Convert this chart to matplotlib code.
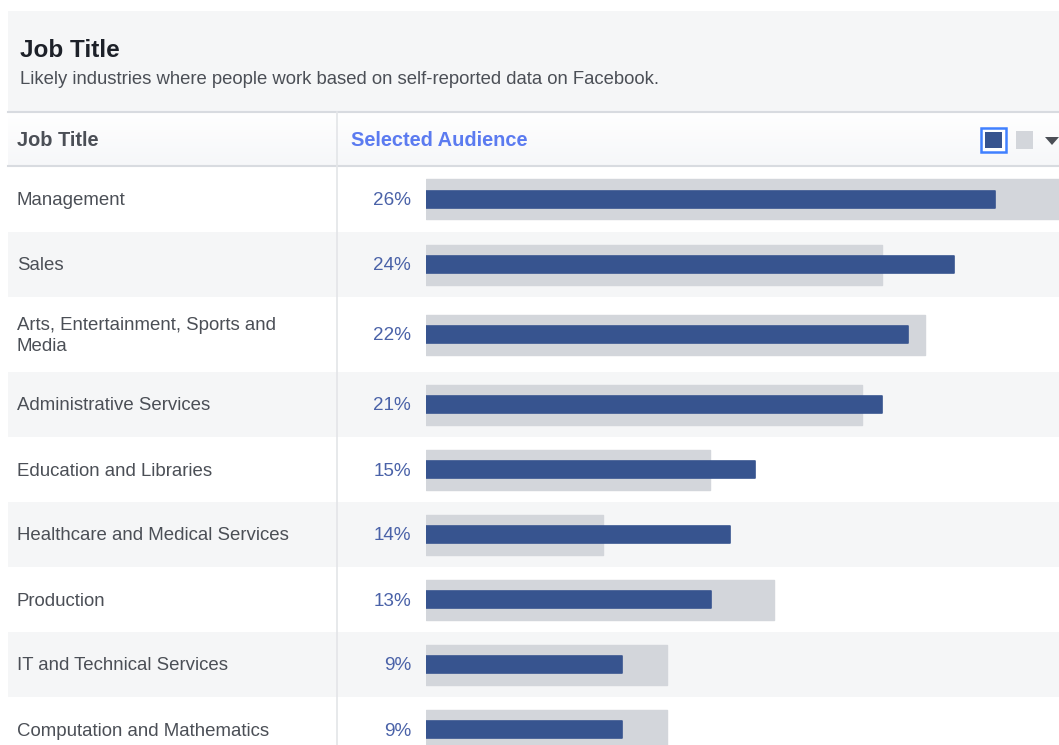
import matplotlib
matplotlib.use("Agg")
import matplotlib.pyplot as plt
import numpy as np
from matplotlib.patches import Rectangle, Polygon

plt.rcParams['font.family'] = ['Liberation Sans', 'DejaVu Sans']

# data
job_titles = [
    "Management",
    "Sales",
    "Arts, Entertainment, Sports and\nMedia",
    "Administrative Services",
    "Education and Libraries",
    "Healthcare and Medical Services",
    "Production",
    "IT and Technical Services",
    "Computation and Mathematics",
]
selected_pct = [26.0, 24.1, 22.0, 20.8, 15.0, 13.9, 13.0, 8.95, 8.95]   # blue bars
facebook_pct = [30.0, 20.8, 22.8, 19.9, 12.95, 8.1, 15.9, 11.0, 11.0]  # grey bars
pct_labels = [f"{round(v)}%" for v in selected_pct]

# layout (pixels)
W, H = 1059, 745
row_heights = [66, 65, 75, 65, 65, 65, 65, 65, 65]
table_top = 166
bar_left = 426
px_per_pct = 21.9

edges = table_top + np.concatenate([[0], np.cumsum(row_heights)])
centers = (edges[:-1] + edges[1:]) / 2

txt_dark = '#4b4f56'
txt_blue = '#4a62a8'
blue = '#37548f'
grey = '#d3d6db'
stripe = '#f5f6f7'
line = '#d8dbe0'

fig = plt.figure(figsize=(W / 100, H / 100), dpi=100)
fig.patch.set_facecolor('white')

ax = fig.add_axes([0, 0, 1, 1])
ax.set_xlim(0, W)
ax.set_ylim(H, 0)
ax.axis('off')

# header panel
ax.add_patch(Rectangle((8, 11), W - 8, 101, facecolor=stripe, edgecolor='none'))
ax.text(20, 57, "Job Title", fontsize=17.5, fontweight='bold', color='#1d2129', va='baseline')
ax.text(20, 84, "Likely industries where people work based on self-reported data on Facebook.",
        fontsize=13.35, color=txt_dark, va='baseline')

# column header row with slight gradient
grad = np.linspace(1.0, 0.0, 50).reshape(-1, 1)
ax.imshow(grad, extent=(8, W, 166, 112), cmap=matplotlib.colors.LinearSegmentedColormap.from_list(
    'g', ['#f6f7f9', '#ffffff']), aspect='auto', zorder=0.5)
ax.plot([8, W], [112, 112], color=line, lw=1.5)
ax.plot([8, W], [166, 166], color=line, lw=1.5)
ax.text(17, 141, "Job Title", fontsize=14.4, fontweight='bold', color=txt_dark, va='center')
ax.text(351, 140, "Selected Audience", fontsize=14.4, fontweight='bold', color='#5b7bf0', va='center')

# legend-ish icons
ax.add_patch(Rectangle((981, 128), 25, 24, facecolor='white', edgecolor='#4080ff', lw=1.8, zorder=3))
ax.add_patch(Rectangle((985, 132), 17, 16, facecolor=blue, edgecolor='none', zorder=4))
ax.add_patch(Rectangle((1016, 131), 17, 18, facecolor=grey, edgecolor='none', zorder=3))
ax.add_patch(Polygon([[1045, 137], [1059, 137], [1052, 145]], closed=True,
                     facecolor=txt_dark, edgecolor='none', zorder=3))

# row stripes and labels
for i, (y0, y1) in enumerate(zip(edges[:-1], edges[1:])):
    if i % 2 == 1:
        ax.add_patch(Rectangle((8, y0), W - 8, y1 - y0, facecolor=stripe, edgecolor='none', zorder=0.6))
for i, c in enumerate(centers):
    ax.text(17, c + 1.5, job_titles[i], fontsize=13.45, color=txt_dark, va='center', linespacing=1.32)
    ax.text(411, c + 1.5, pct_labels[i], fontsize=13.6, color=txt_blue, va='center', ha='right')

ax.plot([337, 337], [112, H], color='#e3e5e8', lw=1.2)

# bars
bx = fig.add_axes([bar_left / W, 0, (W - bar_left) / W, 1])
bx.set_xlim(0, (W - bar_left) / px_per_pct)
bx.set_ylim(H, 0)
bx.axis('off')
bx.patch.set_alpha(0)
bx.barh(centers, facebook_pct, height=40, color=grey, edgecolor=grey, lw=1, joinstyle='round')
bx.barh(centers, selected_pct, height=17, color=blue, edgecolor=blue, lw=1.2, joinstyle='round')

fig.savefig('out.png', dpi=100, facecolor='white')
